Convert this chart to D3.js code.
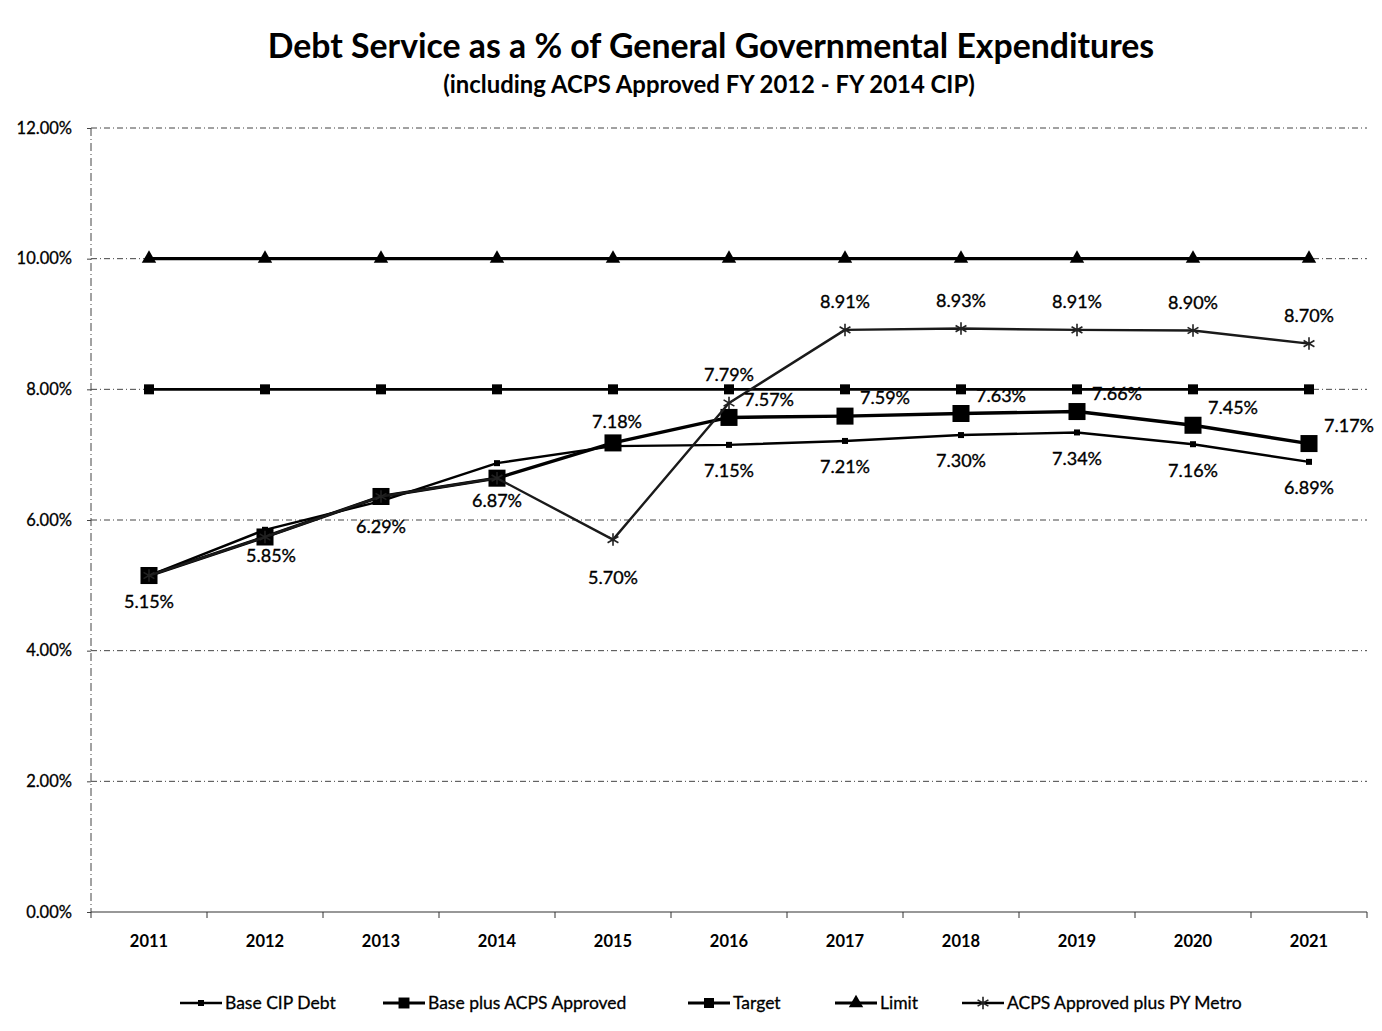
<!DOCTYPE html>
<html>
<head>
<meta charset="utf-8">
<script src="https://cdn.jsdelivr.net/npm/d3@7"></script>
<style>
  body { margin: 0; background: #fff; }
  svg { display: block; font-family: Lato, "Liberation Sans", sans-serif; }
</style>
</head>
<body>
<script>
var width = 1382,
    height = 1031;

// chart data
var years = ["2011", "2012", "2013", "2014", "2015", "2016", "2017", "2018", "2019", "2020", "2021"];
var baseCip     = [5.15, 5.85, 6.29, 6.87, 7.13, 7.15, 7.21, 7.30, 7.34, 7.16, 6.89];
var basePlus    = [5.15, 5.74, 6.36, 6.64, 7.18, 7.57, 7.59, 7.63, 7.66, 7.45, 7.17];
var target      = [8, 8, 8, 8, 8, 8, 8, 8, 8, 8, 8];
var limit       = [10, 10, 10, 10, 10, 10, 10, 10, 10, 10, 10];
var metro       = [5.15, 5.74, 6.36, 6.64, 5.70, 7.79, 8.91, 8.93, 8.91, 8.90, 8.70];
var yTicks      = [0, 2, 4, 6, 8, 10, 12];

// which points carry a data label
var baseCipLabelled  = [0, 1, 2, 3, 5, 6, 7, 8, 9, 10];
var basePlusLabelled = [4, 5, 6, 7, 8, 9, 10];
var metroLabelled    = [4, 5, 6, 7, 8, 9, 10];

var series = [
  {name: "Base CIP Debt", values: baseCip, width: 2.4, symbol: d3.symbolSquare, size: 36, labelled: baseCipLabelled, place: "below"},
  {name: "Base plus ACPS Approved", values: basePlus, width: 3.4, symbol: d3.symbolSquare, size: 290, labelled: basePlusLabelled, place: "right"},
  {name: "Target", values: target, width: 2.8, symbol: d3.symbolSquare, size: 100, labelled: [], place: "none"},
  {name: "Limit", values: limit, width: 3.2, symbol: d3.symbolTriangle, size: 90, labelled: [], place: "none"},
  {name: "ACPS Approved plus PY Metro", values: metro, width: 2.4, symbol: d3.symbolAsterisk, size: 110, labelled: metroLabelled, place: "above"}
];

var margin = {left: 91, right: 15, top: 128, bottom: 119};

var svg = d3.select("body").append("svg")
    .attr("width", width)
    .attr("height", height);

var x = d3.scalePoint()
    .domain(years)
    .range([margin.left, width - margin.right])
    .padding(0.5);

var y = d3.scaleLinear()
    .domain([0, 12])
    .range([height - margin.bottom, margin.top]);

// title
var title = svg.append("text")
    .attr("x", 711).attr("y", 58)
    .attr("text-anchor", "middle")
    .attr("font-weight", "bold")
    .attr("font-size", 30)
    .attr("fill", "#000")
    .text("Debt Service as a % of General Governmental Expenditures");

var subtitle = svg.append("text")
    .attr("x", 709).attr("y", 93)
    .attr("text-anchor", "middle")
    .attr("font-weight", "bold")
    .attr("font-size", 19)
    .attr("fill", "#000")
    .text("(including ACPS Approved FY 2012 - FY 2014 CIP)");

// squeeze the titles to the width they have in the picture
function fit(sel, w) {
  var cur = sel.node().getComputedTextLength();
  var fs = +sel.attr("font-size");
  sel.attr("font-size", fs * w / cur);
}
fit(title, 887);
fit(subtitle, 532);

// grid
svg.append("g")
  .selectAll("line")
  .data(yTicks.filter(d => d > 0))
  .join("line")
    .attr("x1", margin.left)
    .attr("x2", width - margin.right)
    .attr("y1", d => y(d))
    .attr("y2", d => y(d))
    .attr("stroke", "#444")
    .attr("stroke-width", 1)
    .attr("stroke-dasharray", "6,3,1,3");

// left axis line (dashed, like the scan)
svg.append("line")
    .attr("x1", margin.left).attr("x2", margin.left)
    .attr("y1", y(12)).attr("y2", y(0))
    .attr("stroke", "#444")
    .attr("stroke-dasharray", "8,3,1,3");

var yAxis = svg.append("g")
    .attr("transform", `translate(${margin.left},0)`)
    .call(d3.axisLeft(y).tickValues(yTicks).tickSize(4).tickFormat(d => d3.format(".2f")(d) + "%"));
yAxis.select(".domain").remove();
yAxis.selectAll("text")
    .attr("font-size", 16.5)
    .attr("font-family", "Lato, sans-serif")
    .attr("fill", "#000")
    .attr("stroke", "#000")
    .attr("stroke-width", 0.3)
    .attr("dx", -12);
yAxis.selectAll("line").attr("stroke", "#444");

// bottom axis, ticks between categories
var step = x.step();
svg.append("line")
    .attr("x1", margin.left).attr("x2", width - margin.right)
    .attr("y1", y(0)).attr("y2", y(0))
    .attr("stroke", "#333")
    .attr("stroke-width", 1.2);

svg.append("g")
  .selectAll("line")
  .data(d3.range(years.length + 1))
  .join("line")
    .attr("x1", i => margin.left + i * step)
    .attr("x2", i => margin.left + i * step)
    .attr("y1", y(0))
    .attr("y2", y(0) + 6)
    .attr("stroke", "#333");

svg.append("g")
  .selectAll("text")
  .data(years)
  .join("text")
    .attr("x", d => x(d))
    .attr("y", y(0) + 35)
    .attr("text-anchor", "middle")
    .attr("font-size", 16.5)
    .attr("font-weight", "bold")
    .attr("fill", "#000")
    .text(d => d);

// lines and markers
var line = d3.line()
    .x((d, i) => x(years[i]))
    .y(d => y(d));

function markerAttrs(sel, s) {
  var stroked = s.symbol === d3.symbolAsterisk;
  sel.attr("d", d3.symbol().type(s.symbol).size(s.size)())
    .attr("fill", stroked ? "none" : "#000")
    .attr("stroke", stroked ? "#222" : "none")
    .attr("stroke-width", stroked ? 1.6 : 0);
}

var drawOrder = [2, 3, 0, 1, 4];
drawOrder.forEach(k => {
  var s = series[k];
  var g = svg.append("g");
  g.append("path")
      .datum(s.values)
      .attr("fill", "none")
      .attr("stroke", k === 4 ? "#1a1a1a" : "#000")
      .attr("stroke-width", s.width)
      .attr("stroke-linejoin", "round")
      .attr("d", line);
  g.selectAll("path.mark")
    .data(s.values)
    .join("path")
      .attr("class", "mark")
      .attr("transform", (d, i) => `translate(${x(years[i])},${y(d)})`)
      .call(markerAttrs, s);
});

// data labels
var fmt = d => d3.format(".2f")(d) + "%";
var labelG = svg.append("g")
    .attr("font-size", 18)
    .attr("fill", "#000")
    .attr("stroke", "#000")
    .attr("stroke-width", 0.35)
    .attr("text-anchor", "middle");

series.forEach(s => {
  s.labelled.forEach(i => {
    var px = x(years[i]), py = y(s.values[i]);
    var dx = 0, dy = 0;
    if (s.place === "below") { dy = 26; if (i === 3) dy = 38; if (i === 1) dx = 6; }
    if (s.place === "above") { dy = -28; if (s.values[i] < 6) dy = 38; }
    if (s.place === "right") {
      if (i === 4) { dx = 4; dy = -21; }
      else { dx = 40; dy = -18; }
    }
    labelG.append("text")
        .attr("x", px + dx)
        .attr("y", py + dy)
        .attr("dy", "0.35em")
        .text(fmt(s.values[i]));
  });
});

// legend
var legendX = [180, 383, 688, 835, 962];
var legend = svg.append("g");
series.forEach((s, k) => {
  var lg = legend.append("g").attr("transform", `translate(${legendX[k]},1003)`);
  lg.append("line")
      .attr("x1", 0).attr("x2", 42)
      .attr("stroke", "#000")
      .attr("stroke-width", Math.min(s.width, 2.8));
  lg.append("path")
      .attr("transform", "translate(21,0)")
      .call(markerAttrs, Object.assign({}, s, {size: Math.min(s.size, 120)}));
  lg.append("text")
      .attr("x", 45)
      .attr("dy", "0.35em")
      .attr("font-size", 17.5)
      .attr("fill", "#000")
      .attr("stroke", "#000")
      .attr("stroke-width", 0.3)
      .text(s.name);
});
</script>
</body>
</html>
